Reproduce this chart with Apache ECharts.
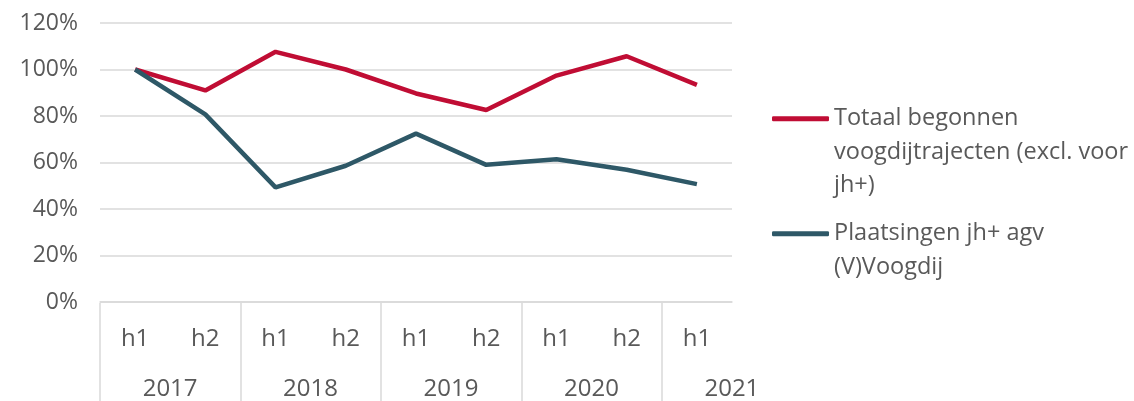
<!DOCTYPE html>
<html>
    <head>
        <meta charset="UTF-8">
        <title>Voogdij</title>
        <script src="https://cdn.jsdelivr.net/npm/echarts@6/dist/echarts.min.js"></script>
        <style>
            html, body {
                margin: 0;
                padding: 0;
                background: #ffffff;
            }
            #chart {
                width: 1134px;
                height: 401px;
            }
        </style>
    </head>
    <body>
        <div id="chart"></div>
        <script>
            const halves = ['h1', 'h2', 'h1', 'h2', 'h1', 'h2', 'h1', 'h2', 'h1'];
            const years = ['2017', '2017', '2018', '2018', '2019', '2019', '2020', '2020', '2021'];
            const yTicks = [0, 20, 40, 60, 80, 100, 120];

            const totaalName = 'Totaal begonnen voogdijtrajecten (excl. voor jh+)';
            const totaal = [100, 91, 107.6, 100, 89.7, 82.6, 97.4, 105.7, 93.4];

            const plaatsName = 'Plaatsingen jh+ agv (V)Voogdij';
            const plaats = [100, 80.7, 49.3, 58.6, 72.4, 59, 61.4, 56.9, 50.7];

            // leading blank lines keep the legend line next to the first text line
            const legendLabels = {};
            legendLabels[totaalName] = '\n\nTotaal begonnen\nvoogdijtrajecten (excl. voor\njh+)';
            legendLabels[plaatsName] = '\nPlaatsingen jh+ agv\n(V)Voogdij';

            const textColor = '#595959';
            const gridColor = '#d9d9d9';
            const font = '"Open Sans", sans-serif';

            const chart = echarts.init(document.getElementById('chart'));

            chart.setOption({
                animation: false,
                textStyle: { fontFamily: font },
                grid: [
                    { left: 100, right: 402, top: 23, bottom: 98 },
                    { left: 100, right: 402, top: 303, bottom: 0 }
                ],
                legend: {
                    orient: 'vertical',
                    left: 767,
                    top: 30,
                    itemWidth: 57,
                    itemHeight: 5,
                    itemGap: -19,
                    icon: 'roundRect',
                    data: [totaalName, plaatsName],
                    formatter: name => legendLabels[name],
                    textStyle: {
                        color: textColor,
                        fontSize: 23.5,
                        lineHeight: 33.5,
                        fontFamily: font
                    }
                },
                xAxis: [
                    {
                        type: 'category',
                        data: halves,
                        gridIndex: 0,
                        axisLine: { lineStyle: { color: gridColor, width: 1.5 } },
                        axisTick: { show: false },
                        axisLabel: {
                            color: textColor,
                            fontSize: 24,
                            margin: 25,
                            interval: 0
                        }
                    },
                    {
                        type: 'category',
                        data: years,
                        gridIndex: 0,
                        position: 'bottom',
                        axisLine: { show: false },
                        axisTick: { show: false },
                        axisLabel: {
                            color: textColor,
                            fontSize: 24,
                            margin: 75,
                            interval: 1,
                            padding: [0, 0, 0, 70]
                        }
                    },
                    {
                        // group separators below the plot
                        type: 'category',
                        data: years,
                        gridIndex: 1,
                        axisLine: { show: false },
                        axisTick: { show: false },
                        axisLabel: { show: false },
                        splitLine: {
                            show: true,
                            interval: 1,
                            showMaxLine: false,
                            lineStyle: { color: gridColor, width: 1.5 }
                        }
                    }
                ],
                yAxis: [
                    {
                        type: 'value',
                        gridIndex: 0,
                        min: 0,
                        max: 120,
                        interval: 20,
                        axisLine: { show: false },
                        axisTick: { show: false },
                        splitLine: { lineStyle: { color: gridColor, width: 1.5 } },
                        axisLabel: {
                            color: textColor,
                            fontSize: 23,
                            margin: 22,
                            formatter: v => yTicks.indexOf(v) >= 0 ? v + '%' : ''
                        }
                    },
                    {
                        type: 'value',
                        gridIndex: 1,
                        show: false
                    }
                ],
                series: [
                    {
                        name: totaalName,
                        type: 'line',
                        data: totaal,
                        showSymbol: false,
                        symbol: 'none',
                        lineStyle: { color: '#c00d34', width: 4.5 },
                        itemStyle: { color: '#c00d34' }
                    },
                    {
                        name: plaatsName,
                        type: 'line',
                        data: plaats,
                        showSymbol: false,
                        symbol: 'none',
                        lineStyle: { color: '#2e5867', width: 4.5 },
                        itemStyle: { color: '#2e5867' }
                    }
                ]
            });
        </script>
    </body>
</html>
